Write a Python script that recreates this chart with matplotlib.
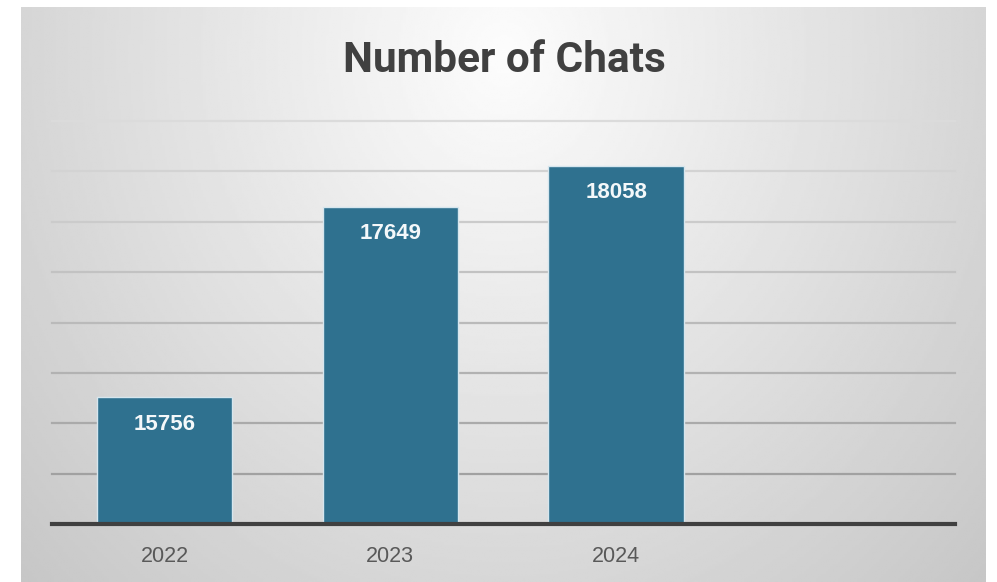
import matplotlib.pyplot as plt
import numpy as np

years = ["2022", "2023", "2024", ""]
chats = [15756, 17649, 18058]
y_min, y_max, y_step = 14500, 18500, 500

fig = plt.figure(figsize=(9.97, 5.82), dpi=100)
fig.patch.set_facecolor("white")

# soft gray gradient background, lightest behind the title
bg = fig.add_axes([21 / 997, 0, 964 / 997, 575 / 582])
gx, gy = np.meshgrid(np.linspace(-1, 1, 400), np.linspace(0, 1, 240))
dist = np.sqrt((gx / 1.05) ** 2 + ((gy - 0.08) / 1.0) ** 2)
shade = np.clip(0.99 - 0.16 * dist, 0.78, 1.0)
bg.imshow(shade, cmap="gray", vmin=0, vmax=1, aspect="auto", extent=[0, 1, 1, 0])
bg.axis("off")

ax = fig.add_axes([51.5 / 997, 58 / 582, 903.5 / 997, 403 / 582])
ax.patch.set_alpha(0)

x = np.arange(len(years))
bars = ax.bar(x[:len(chats)], chats, width=0.6, color="#2f718f",
              edgecolor="#d6e6ee", linewidth=1, zorder=3)

ax.set_xlim(-0.5, len(years) - 0.5)
ax.set_ylim(y_min, y_max)
ax.set_yticks(np.arange(y_min, y_max + 1, y_step))
ax.yaxis.grid(True, linewidth=1.6, zorder=1)
ticks = ax.get_yticks()
for val, line in zip(ticks, ax.get_ygridlines()):
    frac = (val - y_min) / (y_max - y_min)
    g = 0.60 + 0.26 * frac
    line.set_color((g, g, g))
    line.set_clip_on(False)
ax.tick_params(axis="y", left=False, labelleft=False)

ax.set_xticks(x)
ax.set_xticklabels(years, fontsize=15.5, color="#595959", family="Liberation Sans")
ax.tick_params(axis="x", length=0, pad=16)

for s in ["top", "right", "left"]:
    ax.spines[s].set_visible(False)
ax.spines["bottom"].set_color("#404040")
ax.spines["bottom"].set_linewidth(3)
ax.spines["bottom"].set_zorder(4)

for b, v in zip(bars, chats):
    ax.annotate(str(v), (b.get_x() + b.get_width() / 2, v), xytext=(0, -19.5),
                textcoords="offset points", ha="center", va="center",
                color="#f4f8fa", fontsize=16, fontweight="bold",
                family="Liberation Sans", zorder=5)

fig.text(504 / 997, 1 - 61 / 582, "Number of Chats", ha="center", va="center",
         fontsize=30.5, fontweight="bold", color="#404040", family="Roboto")

fig.savefig("out.png", dpi=100)
